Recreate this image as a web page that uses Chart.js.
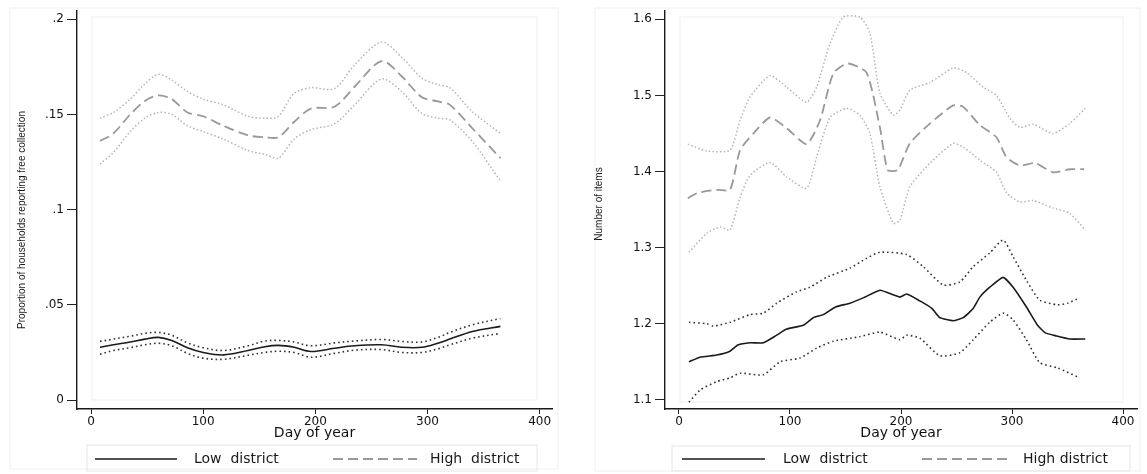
<!DOCTYPE html>
<html>
<head>
<meta charset="utf-8">
<script src="https://cdn.jsdelivr.net/npm/chart.js@4.4.1/dist/chart.umd.min.js"></script>
<style>
  html, body { margin: 0; padding: 0; background: #fff; }
  .panel { position: absolute; top: 0; height: 474px; }
  #left  { left: 0;     width: 565px; }
  #right { left: 575px; width: 572px; }
</style>
</head>
<body>
<div class="panel" id="left"><canvas id="cL"></canvas></div>
<div class="panel" id="right"><canvas id="cR"></canvas></div>
<script>
// ---- data ----
const dayTicks = [0, 100, 200, 300, 400];
const leftTicks = [0, 0.05, 0.1, 0.15, 0.2];
const rightTicks = [1.1, 1.2, 1.3, 1.4, 1.5, 1.6];

// left panel: proportion reporting free collection
const leftDay  = [8, 20, 35, 48, 60, 72, 86, 100, 118, 140, 155, 167, 181, 196, 217, 235, 259, 277, 295, 310, 320, 340, 365];
const highMeanL = [0.136, 0.140, 0.150, 0.157, 0.160, 0.158, 0.151, 0.149, 0.144, 0.139, 0.138, 0.138, 0.146, 0.153, 0.154, 0.1645, 0.178, 0.170, 0.159, 0.1567, 0.155, 0.1427, 0.127];
const highUpL   = [0.148, 0.151, 0.158, 0.166, 0.171, 0.168, 0.162, 0.158, 0.155, 0.149, 0.148, 0.149, 0.161, 0.164, 0.1635, 0.176, 0.188, 0.180, 0.169, 0.1655, 0.164, 0.1514, 0.140];
const highLoL   = [0.124, 0.130, 0.141, 0.148, 0.151, 0.150, 0.144, 0.141, 0.137, 0.131, 0.129, 0.127, 0.137, 0.142, 0.145, 0.155, 0.1686, 0.162, 0.1505, 0.148, 0.147, 0.1357, 0.115];
const lowMeanL  = [0.0277, 0.029, 0.0305, 0.032, 0.0329, 0.0313, 0.0275, 0.025, 0.0237, 0.026, 0.028, 0.0287, 0.0277, 0.0255, 0.0272, 0.0285, 0.029, 0.0277, 0.0277, 0.030, 0.032, 0.036, 0.0387];
const lowUpL    = [0.0308, 0.032, 0.0335, 0.035, 0.0355, 0.034, 0.030, 0.0275, 0.026, 0.0285, 0.031, 0.0313, 0.0305, 0.0285, 0.030, 0.031, 0.0318, 0.0308, 0.0305, 0.033, 0.0355, 0.0395, 0.0428];
const lowLoL    = [0.024, 0.026, 0.0275, 0.029, 0.0298, 0.0285, 0.0245, 0.022, 0.0214, 0.0235, 0.025, 0.0256, 0.025, 0.0225, 0.0245, 0.0262, 0.0265, 0.025, 0.025, 0.027, 0.029, 0.0325, 0.035];

// right panel: number of items
const rHighMeanDay = [8, 17, 34, 46, 55, 67, 82, 97, 115, 127, 139, 152, 169, 181, 188, 197, 208, 226, 247, 256, 271, 286, 295, 307, 321, 337, 352, 365];
const rHighMean    = [1.365, 1.372, 1.376, 1.376, 1.428, 1.450, 1.471, 1.457, 1.436, 1.467, 1.529, 1.542, 1.530, 1.458, 1.402, 1.402, 1.437, 1.463, 1.487, 1.485, 1.461, 1.445, 1.419, 1.408, 1.411, 1.399, 1.403, 1.403];
const rHighUpDay = [8, 25, 46, 55, 64, 82, 97, 115, 124, 136, 148, 163, 172, 181, 193, 199, 208, 226, 247, 259, 274, 286, 298, 307, 319, 337, 352, 366];
const rHighUp    = [1.436, 1.427, 1.428, 1.467, 1.498, 1.526, 1.511, 1.491, 1.511, 1.568, 1.603, 1.603, 1.582, 1.503, 1.474, 1.481, 1.507, 1.517, 1.536, 1.530, 1.511, 1.500, 1.470, 1.458, 1.462, 1.450, 1.463, 1.483];
const rHighLoDay = [9, 25, 37, 46, 55, 64, 82, 97, 115, 124, 136, 151, 163, 172, 181, 193, 199, 208, 226, 247, 256, 271, 286, 295, 307, 319, 337, 352, 366];
const rHighLo    = [1.294, 1.319, 1.327, 1.323, 1.366, 1.395, 1.412, 1.393, 1.378, 1.419, 1.471, 1.483, 1.474, 1.450, 1.380, 1.332, 1.336, 1.380, 1.411, 1.437, 1.432, 1.415, 1.399, 1.372, 1.360, 1.362, 1.352, 1.345, 1.323];
const rLowMeanDay = [9, 19, 34, 46, 53, 64, 76, 88, 97, 112, 121, 130, 141, 154, 166, 181, 193, 199, 205, 217, 228, 235, 247, 256, 265, 271, 280, 292, 301, 313, 323, 330, 340, 352, 366];
const rLowMean    = [1.150, 1.156, 1.159, 1.164, 1.172, 1.175, 1.175, 1.185, 1.193, 1.198, 1.208, 1.212, 1.222, 1.227, 1.234, 1.244, 1.238, 1.235, 1.239, 1.230, 1.220, 1.208, 1.204, 1.208, 1.220, 1.235, 1.248, 1.261, 1.248, 1.222, 1.198, 1.188, 1.184, 1.180, 1.180];
const rLowUpDay = [9, 25, 31, 46, 64, 76, 88, 106, 118, 133, 154, 169, 181, 205, 220, 238, 253, 265, 280, 292, 301, 313, 325, 341, 350, 361];
const rLowUp    = [1.202, 1.200, 1.197, 1.202, 1.212, 1.214, 1.227, 1.242, 1.248, 1.261, 1.273, 1.286, 1.294, 1.291, 1.275, 1.251, 1.255, 1.275, 1.293, 1.310, 1.288, 1.257, 1.231, 1.225, 1.227, 1.234];
const rLowLoDay = [9, 19, 34, 46, 55, 76, 91, 109, 124, 139, 163, 181, 199, 205, 217, 235, 253, 265, 280, 292, 301, 313, 325, 341, 361];
const rLowLo    = [1.097, 1.113, 1.124, 1.129, 1.135, 1.133, 1.150, 1.155, 1.168, 1.177, 1.183, 1.189, 1.179, 1.185, 1.181, 1.158, 1.162, 1.179, 1.202, 1.214, 1.205, 1.179, 1.149, 1.142, 1.129];

const pts = (xs, ys) => xs.map((x, i) => ({ x: x, y: ys[i] }));

const LOW_MEAN  = { borderColor: '#1a1a1a', borderWidth: 1.6 };
const LOW_CI    = { borderColor: '#333', borderWidth: 1.6, borderDash: [1.6, 3] };
const HIGH_MEAN = { borderColor: '#999', borderWidth: 1.8, borderDash: [10, 5] };
const HIGH_CI   = { borderColor: '#b4b4b4', borderWidth: 1.5, borderDash: [1.5, 2.2] };

function ds(data, style, tension) {
  return Object.assign({ data: data, pointRadius: 0, fill: false, tension: tension }, style);
}

// frames, rotated y title and boxed legend, Stata style
const decor = {
  id: 'decor',
  beforeDraw(chart, args, o) {
    const ctx = chart.ctx;
    ctx.save();
    ctx.lineWidth = 1;
    ctx.strokeStyle = '#efefef';
    ctx.strokeRect(...o.outer);
    ctx.strokeRect(...o.inner);
    ctx.restore();
  },
  afterDraw(chart, args, o) {
    const ctx = chart.ctx;
    ctx.save();
    ctx.translate(o.yTitle.x, o.yTitle.y);
    ctx.rotate(-Math.PI / 2);
    ctx.font = o.yTitle.font;
    ctx.fillStyle = '#1a1a1a';
    ctx.textAlign = 'center';
    ctx.textBaseline = 'middle';
    ctx.fillText(o.yTitle.text, 0, 0);
    ctx.restore();

    const lg = o.legend;
    ctx.save();
    ctx.lineWidth = 1;
    ctx.strokeStyle = '#e6e6e6';
    ctx.strokeRect(...lg.box);
    lg.items.forEach(it => {
      const d = chart.data.datasets[it.ds];
      ctx.beginPath();
      ctx.setLineDash(d.borderDash || []);
      ctx.strokeStyle = d.borderColor;
      ctx.lineWidth = d.borderWidth;
      ctx.moveTo(it.x0, lg.y);
      ctx.lineTo(it.x1, lg.y);
      ctx.stroke();
      ctx.setLineDash([]);
      ctx.fillStyle = '#1a1a1a';
      ctx.font = lg.font;
      ctx.textAlign = 'left';
      ctx.textBaseline = 'middle';
      ctx.fillText(it.label, it.tx, lg.y);
    });
    ctx.restore();
  }
};

function scales(xr, yr, yTicks, yFmt, yWidth) {
  return {
    x: {
      type: 'linear', min: xr[0], max: xr[1],
      afterBuildTicks: s => { s.ticks = dayTicks.map(v => ({ value: v })); },
      afterFit: s => { s.height = 65; },
      grid: { drawOnChartArea: false, tickLength: 5, color: '#222' },
      border: { color: '#1a1a1a', width: 1.4 },
      ticks: { padding: 1, color: '#111', maxRotation: 0, font: { family: 'DejaVu Sans', size: 12 } },
      title: { display: true, text: 'Day of year', color: '#111',
               font: { family: 'DejaVu Sans', size: 14 }, padding: { top: 0, bottom: 32 } }
    },
    y: {
      min: yr[0], max: yr[1],
      afterBuildTicks: s => { s.ticks = yTicks.map(v => ({ value: v })); },
      afterFit: s => { s.width = yWidth; },
      grid: { drawOnChartArea: false, tickLength: 10, color: '#222' },
      border: { color: '#1a1a1a', width: 1.4 },
      ticks: { padding: 3, color: '#111', callback: yFmt, font: { family: 'DejaVu Sans', size: 12 } }
    }
  };
}

Chart.defaults.animation = false;

new Chart(document.getElementById('cL'), {
  type: 'line',
  data: {
    datasets: [
      ds(pts(leftDay, lowMeanL), LOW_MEAN, 0.35),
      ds(pts(leftDay, lowUpL), LOW_CI, 0.35),
      ds(pts(leftDay, lowLoL), LOW_CI, 0.35),
      ds(pts(leftDay, highMeanL), HIGH_MEAN, 0.3),
      ds(pts(leftDay, highUpL), HIGH_CI, 0.3),
      ds(pts(leftDay, highLoL), HIGH_CI, 0.3)
    ]
  },
  options: {
    responsive: true, maintainAspectRatio: false,
    layout: { padding: { top: 8, right: 13, bottom: 0, left: 0 } },
    scales: scales([-12.5, 411], [-0.0047, 0.2047], leftTicks,
                   v => v === 0 ? '0' : String(v).replace(/^0/, ''), 77),
    plugins: {
      legend: { display: false }, tooltip: { enabled: false },
      decor: {
        outer: [10, 8, 548, 461],
        inner: [92, 17, 445, 383],
        yTitle: { x: 22, y: 220, font: '10px "Liberation Sans"',
                  text: 'Proportion of households reporting free collection' },
        legend: {
          box: [87, 445, 450, 26], y: 459, font: '14px "DejaVu Sans"',
          items: [
            { ds: 0, x0: 95, x1: 177, tx: 194, label: 'Low  district' },
            { ds: 3, x0: 333, x1: 417, tx: 430, label: 'High  district' }
          ]
        }
      }
    }
  },
  plugins: [decor]
});

new Chart(document.getElementById('cR'), {
  type: 'line',
  data: {
    datasets: [
      ds(pts(rLowMeanDay, rLowMean), LOW_MEAN, 0.15),
      ds(pts(rLowUpDay, rLowUp), LOW_CI, 0.2),
      ds(pts(rLowLoDay, rLowLo), LOW_CI, 0.2),
      ds(pts(rHighMeanDay, rHighMean), HIGH_MEAN, 0.2),
      ds(pts(rHighUpDay, rHighUp), HIGH_CI, 0.2),
      ds(pts(rHighLoDay, rHighLo), HIGH_CI, 0.2)
    ]
  },
  options: {
    responsive: true, maintainAspectRatio: false,
    layout: { padding: { top: 10, right: 10, bottom: 0, left: 0 } },
    scales: scales([-12.6, 412.6], [1.088, 1.612], rightTicks, v => v.toFixed(1), 90),
    plugins: {
      legend: { display: false }, tooltip: { enabled: false },
      decor: {
        outer: [20, 8, 545, 463],
        inner: [105, 17, 443, 385],
        yTitle: { x: 24, y: 204, font: '10px "Liberation Sans"', text: 'Number of items' },
        legend: {
          box: [97, 446, 458, 25], y: 459, font: '14px "DejaVu Sans"',
          items: [
            { ds: 0, x0: 107, x1: 190, tx: 208, label: 'Low  district' },
            { ds: 3, x0: 347, x1: 435, tx: 448, label: 'High district' }
          ]
        }
      }
    }
  },
  plugins: [decor]
});
</script>
</body>
</html>
